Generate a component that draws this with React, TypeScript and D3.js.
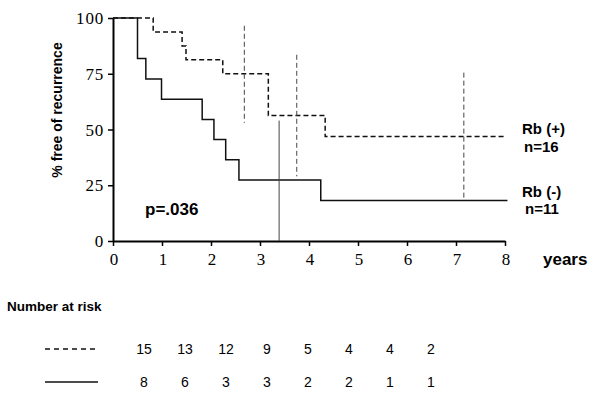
import React, { useRef, useEffect } from "react";
import * as d3 from "d3";

// survival steps (years, % free of recurrence)
const rbPosTimes = [0, 0.82, 1.41, 1.49, 2.24, 3.17, 4.33, 8.03];
const rbPosSurv = [100, 93.75, 87.5, 81.25, 75, 56.25, 46.9, 46.9];
const rbNegTimes = [0, 0.5, 0.67, 0.99, 1.82, 2.06, 2.3, 2.57, 4.24, 8.05];
const rbNegSurv = [100, 81.8, 72.7, 63.6, 54.5, 45.5, 36.4, 27.3, 18.2, 18.2];

// confidence bars
const rbPosCiTimes = [2.68, 3.75, 7.16];
const rbPosCiLow = [53, 29, 18.5];
const rbPosCiHigh = [96.5, 83.5, 75.5];
const rbNegCiTimes = [3.39];
const rbNegCiLow = [0];
const rbNegCiHigh = [54];

const xTicks = [0, 1, 2, 3, 4, 5, 6, 7, 8];
const yTicks = [0, 25, 50, 75, 100];

// number at risk
const rbPosRisk = [15, 13, 12, 9, 5, 4, 4, 2];
const rbNegRisk = [8, 6, 3, 3, 2, 2, 1, 1];

const SANS = "Liberation Sans";
const SERIF = "Liberation Serif";

const App = () => {
    const svgRef = useRef(null);

    useEffect(() => {
        const svg = d3.select(svgRef.current);
        svg.selectAll("*").remove();

        const width = 600;
        const height = 399;

        const x = d3.scaleLinear().domain([0, 8]).range([113, 505]);
        const y = d3.scaleLinear().domain([0, 100]).range([241, 18]);

        svg.attr("width", width).attr("height", height);

        // axes (lines and ticks from d3, labels set below)
        const yAxis = svg
            .append("g")
            .attr("transform", `translate(${x(0)},0)`)
            .call(d3.axisLeft(y).tickValues(yTicks).tickSize(5).tickSizeOuter(0).tickFormat(() => ""));
        yAxis.select(".domain").attr("stroke-width", 2);
        yAxis.selectAll(".tick line").attr("stroke-width", 1.5);

        const xAxis = svg
            .append("g")
            .attr("transform", `translate(0,${y(0)})`)
            .call(d3.axisBottom(x).tickValues(xTicks).tickSize(5).tickSizeOuter(0).tickFormat(() => ""));
        xAxis.select(".domain").attr("stroke-width", 2);
        xAxis.selectAll(".tick line").attr("stroke-width", 1.5);

        svg
            .selectAll(".ylab")
            .data(yTicks)
            .enter()
            .append("text")
            .attr("x", x(0) - 9)
            .attr("y", d => y(d) + 6)
            .attr("text-anchor", "end")
            .attr("font-family", SERIF)
            .attr("font-size", 17)
            .attr("letter-spacing", 0.8)
            .text(d => d);

        svg
            .selectAll(".xlab")
            .data(xTicks)
            .enter()
            .append("text")
            .attr("x", d => x(d) + 1)
            .attr("y", 265)
            .attr("text-anchor", "middle")
            .attr("font-family", SERIF)
            .attr("font-size", 17)
            .text(d => d);

        // curves
        const negLine = d3
            .line<number>()
            .x(d => x(d))
            .y((d, i) => y(rbNegSurv[i]))
            .curve(d3.curveStepAfter);
        const posLine = d3
            .line<number>()
            .x(d => x(d))
            .y((d, i) => y(rbPosSurv[i]))
            .curve(d3.curveStepAfter);

        svg
            .append("path")
            .attr("d", negLine(rbNegTimes))
            .attr("fill", "none")
            .attr("stroke", "#111")
            .attr("stroke-width", 1.5);

        svg
            .append("path")
            .attr("d", posLine(rbPosTimes))
            .attr("fill", "none")
            .attr("stroke", "#111")
            .attr("stroke-width", 1.5)
            .attr("stroke-dasharray", "5,3");

        // confidence bars
        svg
            .selectAll(".ciPos")
            .data(rbPosCiTimes)
            .enter()
            .append("line")
            .attr("x1", d => x(d))
            .attr("x2", d => x(d))
            .attr("y1", (d, i) => y(rbPosCiHigh[i]))
            .attr("y2", (d, i) => y(rbPosCiLow[i]))
            .attr("stroke", "#444")
            .attr("stroke-width", 1)
            .attr("stroke-dasharray", "5,3");

        svg
            .selectAll(".ciNeg")
            .data(rbNegCiTimes)
            .enter()
            .append("line")
            .attr("x1", d => x(d))
            .attr("x2", d => x(d))
            .attr("y1", (d, i) => y(rbNegCiHigh[i]))
            .attr("y2", (d, i) => y(rbNegCiLow[i]))
            .attr("stroke", "#444")
            .attr("stroke-width", 1);

        // labels
        const label = (tx, ty, text, size, anchor = "start") =>
            svg
                .append("text")
                .attr("x", tx)
                .attr("y", ty)
                .attr("font-family", SANS)
                .attr("font-weight", "bold")
                .attr("font-size", size)
                .attr("text-anchor", anchor)
                .text(text);

        label(522, 134, "Rb (+)", 15);
        label(524, 152, "n=16", 15);
        label(522, 197, "Rb (-)", 15);
        label(525, 214, "n=11", 15);
        label(145, 215, "p=.036", 17);
        label(543, 265, "years", 17);
        label(7, 311, "Number at risk", 13.5);

        svg
            .append("text")
            .attr("transform", "translate(62,110) rotate(-90)")
            .attr("font-family", SANS)
            .attr("font-weight", "bold")
            .attr("font-size", 14)
            .attr("text-anchor", "middle")
            .text("% free of recurrence");

        // number at risk table
        const col = d3.scalePoint<number>().domain(d3.range(rbPosRisk.length)).range([144, 431]);
        const rows = [
            { values: rbPosRisk, y: 354, dash: "5,4" },
            { values: rbNegRisk, y: 387, dash: null },
        ];
        rows.forEach(r => {
            svg
                .append("line")
                .attr("x1", 45)
                .attr("x2", 98)
                .attr("y1", r.y - 5)
                .attr("y2", r.y - 5)
                .attr("stroke", "#111")
                .attr("stroke-width", 1.3)
                .attr("stroke-dasharray", r.dash);
            svg
                .selectAll(null)
                .data(r.values)
                .enter()
                .append("text")
                .attr("x", (d, i) => col(i))
                .attr("y", r.y)
                .attr("text-anchor", "middle")
                .attr("font-family", SANS)
                .attr("font-size", 14)
                .text(d => d);
        });
    }, []);

    return (
        <div style={{ position: "absolute", left: 0, top: 0, background: "#fff" }}>
            <svg ref={svgRef}></svg>
        </div>
    );
};

export default App;
